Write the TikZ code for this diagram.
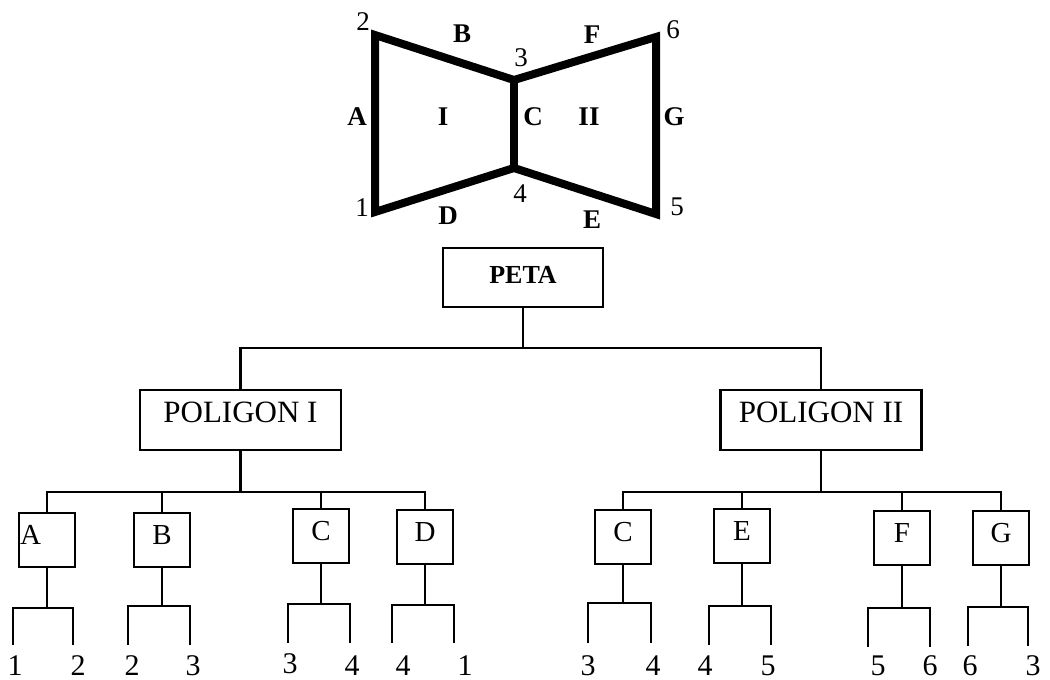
\documentclass[tikz,border=0pt]{standalone}
\usepackage{fontspec}
\setmainfont{Liberation Serif}
\begin{document}
\begin{tikzpicture}[x=1pt,y=-1pt,
  link/.style={line width=2.3pt},
  edge/.style={line width=8pt,line join=miter},
  vlabel/.style={inner sep=0pt,font=\fontsize{27}{27}\selectfont},
  elabel/.style={inner sep=0pt,font=\fontsize{27}{27}\selectfont\bfseries},
  rootbox/.style={draw,line width=2.3pt,inner xsep=0pt,inner ysep=0pt,
    minimum width=160pt,text height=35pt,text depth=24pt,
    font=\fontsize{26}{26}\selectfont\bfseries},
  polybox/.style={draw,line width=2.3pt,inner xsep=0pt,inner ysep=0pt,
    minimum width=201pt,text height=32pt,text depth=28pt,
    font=\fontsize{31}{31}\selectfont},
  sidebox/.style={draw,line width=2.3pt,inner xsep=0pt,inner ysep=0pt,
    minimum width=56pt,text height=31pt,text depth=23pt,
    font=\fontsize{29}{29}\selectfont},
  centred/.style={},
  leftset/.style={text width=54pt,align=left,inner xsep=1pt},
  endlabel/.style={inner sep=0pt,anchor=base,font=\fontsize{30}{30}\selectfont}]

\fill[white] (0,0) rectangle (1050,680);
\useasboundingbox (0,0) rectangle (1050,680);

% the map: two polygons sharing side C
\coordinate (v1) at (375,212);
\coordinate (v2) at (375,35);
\coordinate (v3) at (514,80);
\coordinate (v4) at (514,168);
\coordinate (v5) at (656,214);
\coordinate (v6) at (656,37);
\draw[edge] (v1) -- (v2) -- (v3) -- (v6) -- (v5) -- (v4) -- cycle;
\draw[edge,line cap=butt] (v3) -- (v4);

\node[vlabel] (t1) at (362,208) {1};
\node[vlabel] (t2) at (363,22) {2};
\node[vlabel] (t3) at (521,58) {3};
\node[vlabel] (t4) at (520,194) {4};
\node[vlabel] (t5) at (677,207) {5};
\node[vlabel] (t6) at (673,30) {6};
\node[elabel] (sA) at (357,117) {A};
\node[elabel] (sB) at (462,34) {B};
\node[elabel] (sC) at (533,117) {C};
\node[elabel] (sD) at (448,216) {D};
\node[elabel] (sE) at (592,220) {E};
\node[elabel] (sF) at (592,35) {F};
\node[elabel] (sG) at (674,117) {G};
\node[elabel] (rI) at (443,117) {I};
\node[elabel] (rII) at (589,117) {II};

% tree
\node[rootbox] (peta) at (523,277.5) {PETA};
\node[polybox] (p1) at (240.5,420) {POLIGON I};
\node[polybox] (p2) at (821,420) {POLIGON II};

\coordinate (busTop) at (523,348);
\draw[link] (peta.south) -- (busTop);
\draw[link] (p1.north) |- (busTop) -| (p2.north);

% sides, their end brackets and vertex numbers
\foreach \id/\txt/\st/\x/\y/\l/\r/\ty/\by/\na/\xa/\ya/\nb/\xb/\yb in {
  1A/A/leftset/47/540/13/73/608/645/1/15/675/2/78/675,
  1B/B/centred/162/540/128/190/606/645/2/132/675/3/193/675,
  1C/C/centred/321/536/288/350/604/643/3/290/673/4/352/675,
  1D/D/centred/425/537/392/454/605/643/4/403/675/1/465/675,
  2C/C/centred/623/537/588/651/603/643/3/588/675/4/653/675,
  2E/E/centred/742/536/709/771/606/645/4/705/675/5/768/675,
  2F/F/centred/902/538/868/930/608/647/5/878/675/6/930/675,
  2G/G/centred/1001/538/968/1028/607/646/6/970/675/3/1033/675}{
  \node[sidebox,\st] (b\id) at (\x,\y) {\txt};
  \coordinate (k\id) at (\x,\ty);
  \coordinate (la\id) at (\l,\by);
  \coordinate (lb\id) at (\r,\by);
  \draw[link] (b\id.south) -- (k\id);
  \draw[link] (la\id) -- (la\id |- k\id) -- (lb\id |- k\id) -- (lb\id);
  \node[endlabel] (na\id) at (\xa,\ya) {\na};
  \node[endlabel] (nb\id) at (\xb,\yb) {\nb};
}

\coordinate (busL) at (240.5,492);
\draw[link] (p1.south) -- (busL);
\draw[link] (b1A.north) |- (busL) -| (b1D.north);
\draw[link] (b1B.north) -- (b1B.north |- busL);
\draw[link] (b1C.north) -- (b1C.north |- busL);

\coordinate (busR) at (821,492);
\draw[link] (p2.south) -- (busR);
\draw[link] (b2C.north) |- (busR) -| (b2G.north);
\draw[link] (b2E.north) -- (b2E.north |- busR);
\draw[link] (b2F.north) -- (b2F.north |- busR);

\end{tikzpicture}
\end{document}
